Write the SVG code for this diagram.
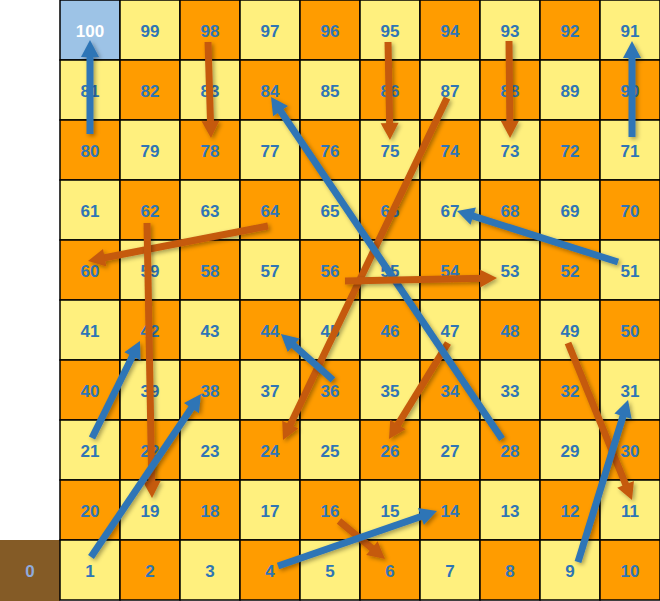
<svg xmlns="http://www.w3.org/2000/svg" width="660" height="601" viewBox="0 0 660 601">
<style>
.y{fill:#FFF07E;stroke:#000;stroke-width:1.5}
.o{fill:#FF9C00;stroke:#000;stroke-width:1.5}
.b{fill:#9DC3E6;stroke:#000;stroke-width:1.5}
.z{fill:#845B26;stroke:none}
text{font-family:"Liberation Sans","Open Sans",Arial,sans-serif;font-weight:bold;font-size:17px;text-anchor:middle;fill:#2E75B6}
.w{fill:#FFFFFF}
.zt{fill:#8FAADC}
.lad{stroke:#2E75B6;stroke-width:7;fill:none;marker-end:url(#hb);filter:url(#sh)}
.snk{stroke:#C55A11;stroke-width:7;fill:none;marker-end:url(#ho);filter:url(#sh)}
</style>
<defs>
<filter id="sh" filterUnits="userSpaceOnUse" x="0" y="0" width="660" height="601">
<feDropShadow dx="2" dy="2" stdDeviation="2" flood-color="#000" flood-opacity="0.35"/>
</filter>
<marker id="hb" markerUnits="userSpaceOnUse" viewBox="0 -10 17 20" refX="4" refY="0" markerWidth="17" markerHeight="20" orient="auto" overflow="visible">
<path d="M0,-9 L17,0 L0,9 z" fill="#2E75B6"/>
</marker>
<marker id="ho" markerUnits="userSpaceOnUse" viewBox="0 -10 17 20" refX="4" refY="0" markerWidth="17" markerHeight="20" orient="auto" overflow="visible">
<path d="M0,-9 L17,0 L0,9 z" fill="#C55A11"/>
</marker>
</defs>
<g id="cells">
<g id="c0"><rect class="z" x="0" y="540" width="60" height="61"/><text class="zt" x="30" y="577">0</text></g>
<g id="c100"><rect class="b" x="60" y="0" width="60" height="60"/><text class="w" x="90" y="37">100</text></g>
<g id="c99"><rect class="y" x="120" y="0" width="60" height="60"/><text x="150" y="37">99</text></g>
<g id="c98"><rect class="o" x="180" y="0" width="60" height="60"/><text x="210" y="37">98</text></g>
<g id="c97"><rect class="y" x="240" y="0" width="60" height="60"/><text x="270" y="37">97</text></g>
<g id="c96"><rect class="o" x="300" y="0" width="60" height="60"/><text x="330" y="37">96</text></g>
<g id="c95"><rect class="y" x="360" y="0" width="60" height="60"/><text x="390" y="37">95</text></g>
<g id="c94"><rect class="o" x="420" y="0" width="60" height="60"/><text x="450" y="37">94</text></g>
<g id="c93"><rect class="y" x="480" y="0" width="60" height="60"/><text x="510" y="37">93</text></g>
<g id="c92"><rect class="o" x="540" y="0" width="60" height="60"/><text x="570" y="37">92</text></g>
<g id="c91"><rect class="y" x="600" y="0" width="60" height="60"/><text x="630" y="37">91</text></g>
<g id="c81"><rect class="y" x="60" y="60" width="60" height="60"/><text x="90" y="97">81</text></g>
<g id="c82"><rect class="o" x="120" y="60" width="60" height="60"/><text x="150" y="97">82</text></g>
<g id="c83"><rect class="y" x="180" y="60" width="60" height="60"/><text x="210" y="97">83</text></g>
<g id="c84"><rect class="o" x="240" y="60" width="60" height="60"/><text x="270" y="97">84</text></g>
<g id="c85"><rect class="y" x="300" y="60" width="60" height="60"/><text x="330" y="97">85</text></g>
<g id="c86"><rect class="o" x="360" y="60" width="60" height="60"/><text x="390" y="97">86</text></g>
<g id="c87"><rect class="y" x="420" y="60" width="60" height="60"/><text x="450" y="97">87</text></g>
<g id="c88"><rect class="o" x="480" y="60" width="60" height="60"/><text x="510" y="97">88</text></g>
<g id="c89"><rect class="y" x="540" y="60" width="60" height="60"/><text x="570" y="97">89</text></g>
<g id="c90"><rect class="o" x="600" y="60" width="60" height="60"/><text x="630" y="97">90</text></g>
<g id="c80"><rect class="o" x="60" y="120" width="60" height="60"/><text x="90" y="157">80</text></g>
<g id="c79"><rect class="y" x="120" y="120" width="60" height="60"/><text x="150" y="157">79</text></g>
<g id="c78"><rect class="o" x="180" y="120" width="60" height="60"/><text x="210" y="157">78</text></g>
<g id="c77"><rect class="y" x="240" y="120" width="60" height="60"/><text x="270" y="157">77</text></g>
<g id="c76"><rect class="o" x="300" y="120" width="60" height="60"/><text x="330" y="157">76</text></g>
<g id="c75"><rect class="y" x="360" y="120" width="60" height="60"/><text x="390" y="157">75</text></g>
<g id="c74"><rect class="o" x="420" y="120" width="60" height="60"/><text x="450" y="157">74</text></g>
<g id="c73"><rect class="y" x="480" y="120" width="60" height="60"/><text x="510" y="157">73</text></g>
<g id="c72"><rect class="o" x="540" y="120" width="60" height="60"/><text x="570" y="157">72</text></g>
<g id="c71"><rect class="y" x="600" y="120" width="60" height="60"/><text x="630" y="157">71</text></g>
<g id="c61"><rect class="y" x="60" y="180" width="60" height="60"/><text x="90" y="217">61</text></g>
<g id="c62"><rect class="o" x="120" y="180" width="60" height="60"/><text x="150" y="217">62</text></g>
<g id="c63"><rect class="y" x="180" y="180" width="60" height="60"/><text x="210" y="217">63</text></g>
<g id="c64"><rect class="o" x="240" y="180" width="60" height="60"/><text x="270" y="217">64</text></g>
<g id="c65"><rect class="y" x="300" y="180" width="60" height="60"/><text x="330" y="217">65</text></g>
<g id="c66"><rect class="o" x="360" y="180" width="60" height="60"/><text x="390" y="217">66</text></g>
<g id="c67"><rect class="y" x="420" y="180" width="60" height="60"/><text x="450" y="217">67</text></g>
<g id="c68"><rect class="o" x="480" y="180" width="60" height="60"/><text x="510" y="217">68</text></g>
<g id="c69"><rect class="y" x="540" y="180" width="60" height="60"/><text x="570" y="217">69</text></g>
<g id="c70"><rect class="o" x="600" y="180" width="60" height="60"/><text x="630" y="217">70</text></g>
<g id="c60"><rect class="o" x="60" y="240" width="60" height="60"/><text x="90" y="277">60</text></g>
<g id="c59"><rect class="y" x="120" y="240" width="60" height="60"/><text x="150" y="277">59</text></g>
<g id="c58"><rect class="o" x="180" y="240" width="60" height="60"/><text x="210" y="277">58</text></g>
<g id="c57"><rect class="y" x="240" y="240" width="60" height="60"/><text x="270" y="277">57</text></g>
<g id="c56"><rect class="o" x="300" y="240" width="60" height="60"/><text x="330" y="277">56</text></g>
<g id="c55"><rect class="y" x="360" y="240" width="60" height="60"/><text x="390" y="277">55</text></g>
<g id="c54"><rect class="o" x="420" y="240" width="60" height="60"/><text x="450" y="277">54</text></g>
<g id="c53"><rect class="y" x="480" y="240" width="60" height="60"/><text x="510" y="277">53</text></g>
<g id="c52"><rect class="o" x="540" y="240" width="60" height="60"/><text x="570" y="277">52</text></g>
<g id="c51"><rect class="y" x="600" y="240" width="60" height="60"/><text x="630" y="277">51</text></g>
<g id="c41"><rect class="y" x="60" y="300" width="60" height="60"/><text x="90" y="337">41</text></g>
<g id="c42"><rect class="o" x="120" y="300" width="60" height="60"/><text x="150" y="337">42</text></g>
<g id="c43"><rect class="y" x="180" y="300" width="60" height="60"/><text x="210" y="337">43</text></g>
<g id="c44"><rect class="o" x="240" y="300" width="60" height="60"/><text x="270" y="337">44</text></g>
<g id="c45"><rect class="y" x="300" y="300" width="60" height="60"/><text x="330" y="337">45</text></g>
<g id="c46"><rect class="o" x="360" y="300" width="60" height="60"/><text x="390" y="337">46</text></g>
<g id="c47"><rect class="y" x="420" y="300" width="60" height="60"/><text x="450" y="337">47</text></g>
<g id="c48"><rect class="o" x="480" y="300" width="60" height="60"/><text x="510" y="337">48</text></g>
<g id="c49"><rect class="y" x="540" y="300" width="60" height="60"/><text x="570" y="337">49</text></g>
<g id="c50"><rect class="o" x="600" y="300" width="60" height="60"/><text x="630" y="337">50</text></g>
<g id="c40"><rect class="o" x="60" y="360" width="60" height="60"/><text x="90" y="397">40</text></g>
<g id="c39"><rect class="y" x="120" y="360" width="60" height="60"/><text x="150" y="397">39</text></g>
<g id="c38"><rect class="o" x="180" y="360" width="60" height="60"/><text x="210" y="397">38</text></g>
<g id="c37"><rect class="y" x="240" y="360" width="60" height="60"/><text x="270" y="397">37</text></g>
<g id="c36"><rect class="o" x="300" y="360" width="60" height="60"/><text x="330" y="397">36</text></g>
<g id="c35"><rect class="y" x="360" y="360" width="60" height="60"/><text x="390" y="397">35</text></g>
<g id="c34"><rect class="o" x="420" y="360" width="60" height="60"/><text x="450" y="397">34</text></g>
<g id="c33"><rect class="y" x="480" y="360" width="60" height="60"/><text x="510" y="397">33</text></g>
<g id="c32"><rect class="o" x="540" y="360" width="60" height="60"/><text x="570" y="397">32</text></g>
<g id="c31"><rect class="y" x="600" y="360" width="60" height="60"/><text x="630" y="397">31</text></g>
<g id="c21"><rect class="y" x="60" y="420" width="60" height="60"/><text x="90" y="457">21</text></g>
<g id="c22"><rect class="o" x="120" y="420" width="60" height="60"/><text x="150" y="457">22</text></g>
<g id="c23"><rect class="y" x="180" y="420" width="60" height="60"/><text x="210" y="457">23</text></g>
<g id="c24"><rect class="o" x="240" y="420" width="60" height="60"/><text x="270" y="457">24</text></g>
<g id="c25"><rect class="y" x="300" y="420" width="60" height="60"/><text x="330" y="457">25</text></g>
<g id="c26"><rect class="o" x="360" y="420" width="60" height="60"/><text x="390" y="457">26</text></g>
<g id="c27"><rect class="y" x="420" y="420" width="60" height="60"/><text x="450" y="457">27</text></g>
<g id="c28"><rect class="o" x="480" y="420" width="60" height="60"/><text x="510" y="457">28</text></g>
<g id="c29"><rect class="y" x="540" y="420" width="60" height="60"/><text x="570" y="457">29</text></g>
<g id="c30"><rect class="o" x="600" y="420" width="60" height="60"/><text x="630" y="457">30</text></g>
<g id="c20"><rect class="o" x="60" y="480" width="60" height="60"/><text x="90" y="517">20</text></g>
<g id="c19"><rect class="y" x="120" y="480" width="60" height="60"/><text x="150" y="517">19</text></g>
<g id="c18"><rect class="o" x="180" y="480" width="60" height="60"/><text x="210" y="517">18</text></g>
<g id="c17"><rect class="y" x="240" y="480" width="60" height="60"/><text x="270" y="517">17</text></g>
<g id="c16"><rect class="o" x="300" y="480" width="60" height="60"/><text x="330" y="517">16</text></g>
<g id="c15"><rect class="y" x="360" y="480" width="60" height="60"/><text x="390" y="517">15</text></g>
<g id="c14"><rect class="o" x="420" y="480" width="60" height="60"/><text x="450" y="517">14</text></g>
<g id="c13"><rect class="y" x="480" y="480" width="60" height="60"/><text x="510" y="517">13</text></g>
<g id="c12"><rect class="o" x="540" y="480" width="60" height="60"/><text x="570" y="517">12</text></g>
<g id="c11"><rect class="y" x="600" y="480" width="60" height="60"/><text x="630" y="517">11</text></g>
<g id="c1"><rect class="y" x="60" y="540" width="60" height="60"/><text x="90" y="577">1</text></g>
<g id="c2"><rect class="o" x="120" y="540" width="60" height="60"/><text x="150" y="577">2</text></g>
<g id="c3"><rect class="y" x="180" y="540" width="60" height="60"/><text x="210" y="577">3</text></g>
<g id="c4"><rect class="o" x="240" y="540" width="60" height="60"/><text x="270" y="577">4</text></g>
<g id="c5"><rect class="y" x="300" y="540" width="60" height="60"/><text x="330" y="577">5</text></g>
<g id="c6"><rect class="o" x="360" y="540" width="60" height="60"/><text x="390" y="577">6</text></g>
<g id="c7"><rect class="y" x="420" y="540" width="60" height="60"/><text x="450" y="577">7</text></g>
<g id="c8"><rect class="o" x="480" y="540" width="60" height="60"/><text x="510" y="577">8</text></g>
<g id="c9"><rect class="y" x="540" y="540" width="60" height="60"/><text x="570" y="577">9</text></g>
<g id="c10"><rect class="o" x="600" y="540" width="60" height="60"/><text x="630" y="577">10</text></g>
</g>
<g id="connectors">
<line class="snk" x1="208" y1="42" x2="210.6" y2="125"/>
<line class="snk" x1="388" y1="42" x2="389.7" y2="127"/>
<line class="snk" x1="509" y1="41" x2="509.9" y2="125"/>
<line class="snk" x1="447" y1="98" x2="288.6" y2="428.3"/>
<line class="snk" x1="268" y1="226" x2="100.8" y2="258.5"/>
<line class="snk" x1="147" y1="223" x2="151.8" y2="485"/>
<line class="snk" x1="448" y1="343" x2="395.8" y2="427.9"/>
<line class="snk" x1="568" y1="343" x2="627.1" y2="488"/>
<line class="lad" x1="90" y1="134" x2="90" y2="53"/>
<line class="lad" x1="632" y1="137" x2="632" y2="54"/>
<line class="lad" x1="502" y1="439" x2="278.3" y2="107.8"/>
<line class="lad" x1="618" y1="262" x2="469.4" y2="214.9"/>
<line class="snk" x1="345" y1="281" x2="484" y2="278.3"/>
<line class="lad" x1="333" y1="380" x2="290.7" y2="342.6"/>
<line class="lad" x1="578" y1="562" x2="624.2" y2="412.4"/>
<line class="lad" x1="92" y1="438" x2="134.2" y2="352.7"/>
<line class="lad" x1="91" y1="557" x2="193.7" y2="404.8"/>
<line class="snk" x1="339" y1="521" x2="375" y2="550.7"/>
<line class="lad" x1="278" y1="566" x2="424.7" y2="515.3"/>
</g>
</svg>
